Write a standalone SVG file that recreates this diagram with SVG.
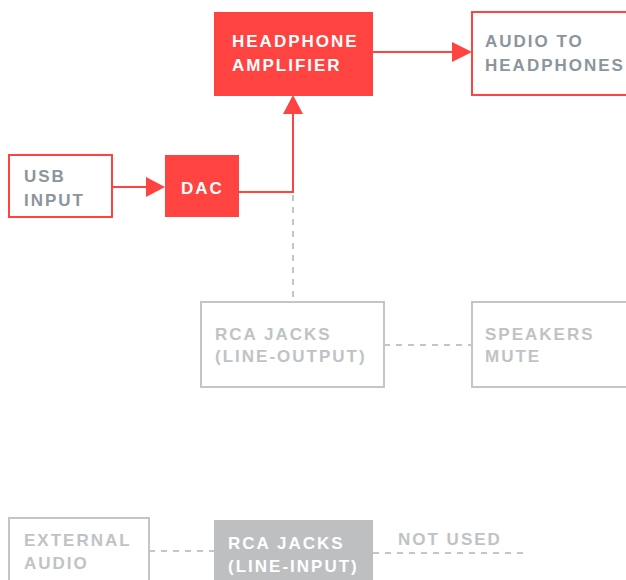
<svg xmlns="http://www.w3.org/2000/svg" width="626" height="580" viewBox="0 0 626 580">
<style>
text{font-family:"Liberation Sans",Arial,sans-serif;font-weight:bold;font-size:17px;letter-spacing:2px}
.red{fill:#ff4340}
.ro{fill:#fff;stroke:#ff4340;stroke-width:2}
.go{fill:#fff;stroke:#c3c6c8;stroke-width:2}
.gf{fill:#bdbfc1}
.tw{fill:#fff}
.td{fill:#8b959b}
.tl{fill:#c0c3c5}
.rl{stroke:#ff4340;stroke-width:2;fill:none}
.dl{stroke:#c3c6c8;stroke-width:2;fill:none;stroke-dasharray:6 6}
</style>
<defs>
<marker id="ah" viewBox="0 0 10 10" refX="10" refY="5" markerWidth="10" markerHeight="10" markerUnits="userSpaceOnUse" orient="auto">
<path d="M0,0L10,5L0,10Z" fill="#ff4340"/>
</marker>
</defs>
<g id="connectors">
<path class="dl" d="M293,195V302"/>
<path class="dl" d="M384,345H472"/>
<path class="dl" d="M149,551H214"/>
<path class="dl" d="M373,553H527"/>
<path class="rl" d="M373,52H452"/>
<path d="M452,42L472,52L452,62Z" class="red"/>
<path class="rl" d="M112,187H146"/>
<path d="M146,177L165,187L146,197Z" class="red"/>
<path class="rl" d="M239,192H293V114"/>
<path d="M283,114L293,95L303,114Z" class="red"/>
</g>
<g id="headphone-amp">
<rect class="red" x="214" y="12" width="159" height="84"/>
<text class="tw" x="232" y="47">HEADPHONE</text>
<text class="tw" x="232" y="71">AMPLIFIER</text>
</g>
<g id="audio-to-headphones">
<rect class="ro" x="472" y="12" width="160" height="83"/>
<text class="td" x="485" y="47">AUDIO TO</text>
<text class="td" x="485" y="71">HEADPHONES</text>
</g>
<g id="usb-input">
<rect class="ro" x="9" y="155" width="103" height="62"/>
<text class="td" x="24" y="182">USB</text>
<text class="td" x="24" y="206">INPUT</text>
</g>
<g id="dac">
<rect class="red" x="165" y="155" width="74" height="62"/>
<text class="tw" x="181" y="194">DAC</text>
</g>
<g id="rca-line-output">
<rect class="go" x="201" y="302" width="183" height="85"/>
<text class="tl" x="215" y="340">RCA JACKS</text>
<text class="tl" x="215" y="362">(LINE-OUTPUT)</text>
</g>
<g id="speakers-mute">
<rect class="go" x="472" y="302" width="160" height="85"/>
<text class="tl" x="485" y="340">SPEAKERS</text>
<text class="tl" x="485" y="362">MUTE</text>
</g>
<g id="external-audio">
<rect class="go" x="9" y="518" width="140" height="70"/>
<text class="tl" x="24" y="546">EXTERNAL</text>
<text class="tl" x="24" y="569">AUDIO</text>
</g>
<g id="rca-line-input">
<rect class="gf" x="214" y="520" width="159" height="70"/>
<text class="tw" x="228" y="549">RCA JACKS</text>
<text class="tw" x="228" y="572">(LINE-INPUT)</text>
</g>
<g id="not-used">
<text class="tl" x="398" y="545">NOT USED</text>
</g>
</svg>
